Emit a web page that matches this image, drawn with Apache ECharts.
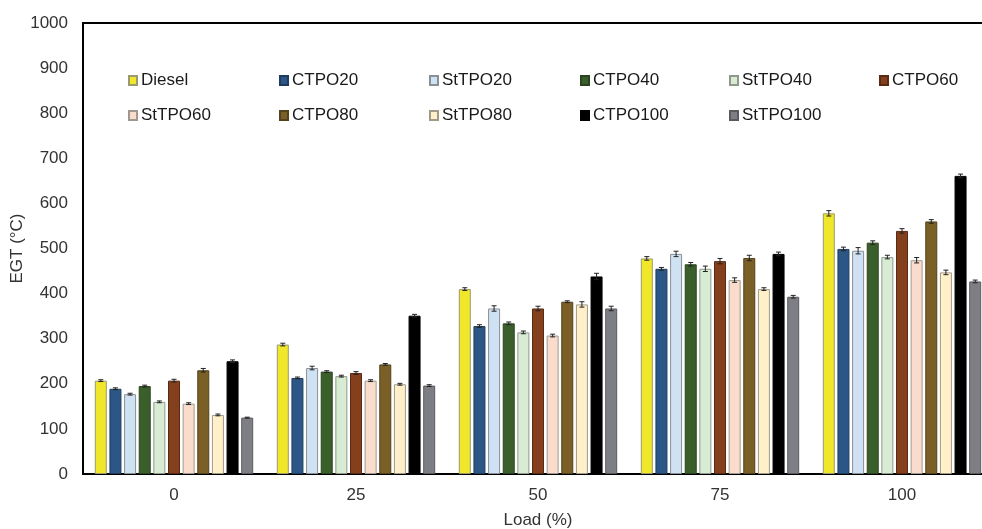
<!DOCTYPE html>
<html>
<head>
<meta charset="utf-8">
<script src="https://cdn.jsdelivr.net/npm/echarts@6/dist/echarts.min.js"></script>
<style>
html,body{margin:0;padding:0;background:#fff;}
#chart{width:982px;height:529px;}
</style>
</head>
<body>
<div id="chart"></div>
<script>
const categories = ['0', '25', '50', '75', '100'];
const seriesNames = ['Diesel', 'CTPO20', 'StTPO20', 'CTPO40', 'StTPO40', 'CTPO60', 'StTPO60', 'CTPO80', 'StTPO80', 'CTPO100', 'StTPO100'];
const yTicks = [0, 100, 200, 300, 400, 500, 600, 700, 800, 900, 1000];

const diesel   = [207, 287, 410, 478, 578];
const ctpo20   = [189, 213, 328, 455, 499];
const sttpo20  = [177, 235, 367, 488, 495];
const ctpo40   = [195, 227, 334, 465, 513];
const sttpo40  = [160, 217, 314, 455, 481];
const ctpo60   = [207, 224, 367, 472, 539];
const sttpo60  = [156, 207, 307, 430, 474];
const ctpo80   = [230, 243, 382, 479, 560];
const sttpo80  = [131, 199, 376, 410, 447];
const ctpo100  = [250, 351, 438, 488, 661];
const sttpo100 = [125, 196, 367, 393, 427];

const errDiesel   = [2, 3, 3, 4, 6];
const errCtpo20   = [2, 2, 3, 3, 4];
const errSttpo20  = [2, 4, 6, 6, 7];
const errCtpo40   = [2, 2, 3, 4, 4];
const errSttpo40  = [2, 2, 3, 6, 4];
const errCtpo60   = [3, 3, 5, 6, 5];
const errSttpo60  = [2, 2, 3, 5, 6];
const errCtpo80   = [4, 2, 2, 6, 4];
const errSttpo80  = [2, 2, 6, 3, 5];
const errCtpo100  = [3, 3, 7, 4, 4];
const errSttpo100 = [1, 2, 5, 3, 3];

const values = [diesel, ctpo20, sttpo20, ctpo40, sttpo40, ctpo60, sttpo60, ctpo80, sttpo80, ctpo100, sttpo100];
const errors = [errDiesel, errCtpo20, errSttpo20, errCtpo40, errSttpo40, errCtpo60, errSttpo60, errCtpo80, errSttpo80, errCtpo100, errSttpo100];

const colors = ['#f0e62a', '#2b5686', '#cfe2f3', '#3a5f2b', '#d8ecd4', '#843f1d', '#f9dccb', '#7a6027', '#fff0c9', '#000000', '#7e7f85'];
const borders = ['#9a9a70', '#1e3c5e', '#8a8f96', '#2a4420', '#8f9a8c', '#5a2a12', '#a09890', '#54421a', '#a09a88', '#000000', '#5a5a60'];

const BAR_W = 12;
const BAR_GAP = 0.22;
const PITCH = BAR_W * (1 + BAR_GAP);
const N = seriesNames.length;

const series = [];
seriesNames.forEach((name, i) => {
  series.push({
    name: name,
    type: 'bar',
    data: values[i],
    barWidth: BAR_W,
    barGap: (BAR_GAP * 100) + '%',
    itemStyle: { color: colors[i], borderColor: borders[i], borderWidth: 1 },
    emphasis: { disabled: true },
    z: 2
  });
});
seriesNames.forEach((name, i) => {
  const offset = (i - (N - 1) / 2) * PITCH;
  series.push({
    name: 'err_' + name,
    type: 'custom',
    z: 5,
    silent: true,
    data: values[i].map((v, k) => [k, v, errors[i][k]]),
    renderItem: function (params, api) {
      const c = api.coord([api.value(0), api.value(1)]);
      const hi = api.coord([api.value(0), api.value(1) + api.value(2)]);
      const lo = api.coord([api.value(0), api.value(1) - api.value(2)]);
      const x = c[0] + offset;
      const cap = 2.5;
      const st = { stroke: '#222', lineWidth: 1 };
      return {
        type: 'group',
        children: [
          { type: 'line', shape: { x1: x, y1: hi[1], x2: x, y2: lo[1] }, style: st },
          { type: 'line', shape: { x1: x - cap, y1: hi[1], x2: x + cap, y2: hi[1] }, style: st },
          { type: 'line', shape: { x1: x - cap, y1: lo[1], x2: x + cap, y2: lo[1] }, style: st }
        ]
      };
    }
  });
});

const legendCols = [128, 279, 429, 580, 729, 879];
const legendRows = [72, 107];
const legends = seriesNames.map((name, i) => ({
  data: [name],
  left: legendCols[i % 6],
  top: legendRows[Math.floor(i / 6)],
  icon: 'rect',
  itemWidth: 8,
  itemHeight: 9,
  itemGap: 5,
  padding: 0,
  selectedMode: false,
  textStyle: { fontFamily: 'Liberation Sans, Arial, sans-serif', fontSize: 17, color: '#1a1a1a', padding: [0, 0, 0, -1] }
}));

const chart = echarts.init(document.getElementById('chart'), null, { renderer: 'canvas' });
chart.setOption({
  animation: false,
  backgroundColor: '#ffffff',
  textStyle: { fontFamily: 'Liberation Sans, Arial, sans-serif' },
  legend: legends,
  grid: { left: 83, top: 23, width: 910, height: 451, show: true, borderColor: '#000', borderWidth: 2, backgroundColor: 'transparent', containLabel: false, outerBoundsMode: 'none' },
  xAxis: {
    type: 'category',
    data: categories,
    name: 'Load (%)',
    nameLocation: 'middle',
    nameGap: 38,
    nameMoveOverlap: false,
    nameTextStyle: { fontSize: 17, color: '#333' },
    axisLine: { show: true, lineStyle: { color: '#000', width: 2 } },
    axisTick: { show: false },
    axisLabel: { fontSize: 17, color: '#333', margin: 13 },
    splitLine: { show: false }
  },
  yAxis: {
    type: 'value',
    min: yTicks[0],
    max: yTicks[yTicks.length - 1],
    interval: yTicks[1] - yTicks[0],
    name: 'EGT (°C)',
    nameLocation: 'middle',
    nameGap: 57,
    nameRotate: 90,
    nameMoveOverlap: false,
    nameTextStyle: { fontSize: 17, color: '#333' },
    axisLine: { show: true, lineStyle: { color: '#000', width: 2 } },
    axisTick: { show: false },
    axisLabel: { fontSize: 17, color: '#333', margin: 15, formatter: function (v) { return String(v); } },
    splitLine: { show: false }
  },
  series: series
});
</script>
</body>
</html>
